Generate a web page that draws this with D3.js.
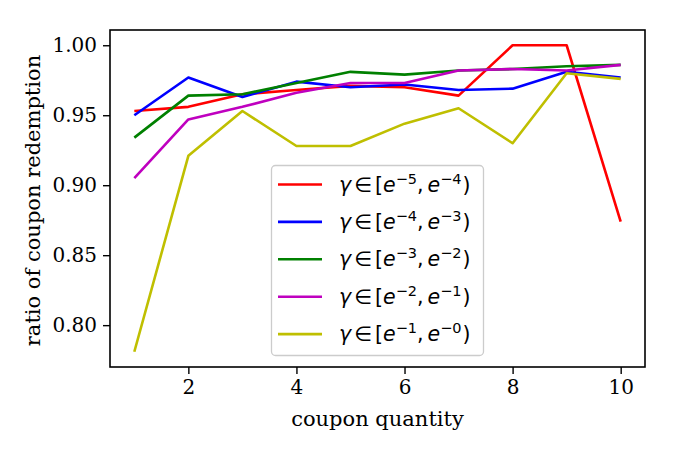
<!DOCTYPE html>
<html lang="en">
<head>
<meta charset="utf-8"/>
<title>coupon redemption</title>
<script src="https://d3js.org/d3.v7.min.js"></script>
<style>
  body { margin: 0; background: #fff; }
  text { font-family: "DejaVu Serif", serif; }
</style>
</head>
<body>
<script>
// data
var quantities = [1, 2, 3, 4, 5, 6, 7, 8, 9, 10];
var xTicks = [2, 4, 6, 8, 10];
var yTicks = [0.80, 0.85, 0.90, 0.95, 1.00];

var red     = [0.953, 0.956, 0.965, 0.968, 0.971, 0.970, 0.964, 1.000, 1.000, 0.874];
var blue    = [0.950, 0.977, 0.963, 0.974, 0.970, 0.972, 0.968, 0.969, 0.981, 0.977];
var green   = [0.934, 0.964, 0.965, 0.973, 0.981, 0.979, 0.982, 0.983, 0.985, 0.986];
var magenta = [0.905, 0.947, 0.956, 0.966, 0.973, 0.973, 0.982, 0.983, 0.982, 0.986];
var yellow  = [0.781, 0.921, 0.953, 0.928, 0.928, 0.944, 0.955, 0.930, 0.980, 0.976];

// legend exponents: [e^lo, e^hi)
var seriesNames = [["−5", "−4"], ["−4", "−3"], ["−3", "−2"], ["−2", "−1"], ["−1", "−0"]];
var seriesColors = ["#ff0000", "#0000ff", "#008000", "#bf00bf", "#bfbf00"];
var seriesValues = [red, blue, green, magenta, yellow];

var w = 675, h = 450;
var pLeft = 110, pRight = 645, pTop = 30, pBottom = 367;

var svg = d3.select("body").append("svg")
    .attr("width", w)
    .attr("height", h);

var xScale = d3.scaleLinear().domain([0.55, 10.45]).range([pLeft, pRight]);
var yScale = d3.scaleLinear().domain([0.7701, 1.0109]).range([pBottom, pTop]);

// axes
var xAxis = svg.append("g")
    .attr("transform", "translate(0," + pBottom + ")")
    .call(d3.axisBottom(xScale).tickValues(xTicks).tickSize(7).tickPadding(6).tickFormat(d3.format("d")));
var yAxis = svg.append("g")
    .attr("transform", "translate(" + pLeft + ",0)")
    .call(d3.axisLeft(yScale).tickValues(yTicks).tickSize(7).tickPadding(6).tickFormat(d3.format(".2f")));

[xAxis, yAxis].forEach(function(a) {
    a.select(".domain").remove();
    a.selectAll("line").attr("stroke", "#000").attr("stroke-width", 1.4);
    a.selectAll("text").attr("fill", "#000")
        .style("font-family", "'DejaVu Serif', serif").style("font-size", "20px");
});

// lines
var line = d3.line()
    .x(function(d, i) { return xScale(quantities[i]); })
    .y(function(d) { return yScale(d); });

svg.append("defs").append("clipPath").attr("id", "clip")
    .append("rect").attr("x", pLeft).attr("y", pTop)
    .attr("width", pRight - pLeft).attr("height", pBottom - pTop);

svg.append("g").attr("clip-path", "url(#clip)")
    .selectAll("path")
    .data(seriesValues)
    .enter()
    .append("path")
    .attr("d", line)
    .attr("fill", "none")
    .attr("stroke", function(d, i) { return seriesColors[i]; })
    .attr("stroke-width", 2.6)
    .attr("stroke-linejoin", "round");

// frame
svg.append("rect")
    .attr("x", pLeft).attr("y", pTop)
    .attr("width", pRight - pLeft).attr("height", pBottom - pTop)
    .attr("fill", "none").attr("stroke", "#000").attr("stroke-width", 1.6);

// axis labels
svg.append("text")
    .attr("x", (pLeft + pRight) / 2).attr("y", 426)
    .attr("text-anchor", "middle")
    .style("font-size", "21px")
    .text("coupon quantity");

svg.append("text")
    .attr("transform", "translate(40," + ((pTop + pBottom) / 2 + 2) + ") rotate(-90)")
    .attr("text-anchor", "middle")
    .style("font-size", "21px")
    .text("ratio of coupon redemption");

// legend
var lg = svg.append("g");
lg.append("rect")
    .attr("x", 271.5).attr("y", 165.5)
    .attr("width", 212).attr("height", 190)
    .attr("rx", 4)
    .attr("fill", "#fff").attr("fill-opacity", 0.8)
    .attr("stroke", "#cccccc").attr("stroke-width", 1.3);

var items = lg.selectAll("g.item")
    .data(seriesNames)
    .enter()
    .append("g")
    .attr("transform", function(d, i) { return "translate(0," + (184.5 + i * 37.4) + ")"; });

items.append("line")
    .attr("x1", 278).attr("x2", 322)
    .attr("stroke", function(d, i) { return seriesColors[i]; })
    .attr("stroke-width", 2.6);

var t = items.append("text")
    .attr("x", 339).attr("y", 7)
    .style("font-family", "'DejaVu Sans', sans-serif")
    .style("font-size", "20.5px");

t.each(function(d) {
    var el = d3.select(this);
    el.append("tspan").style("font-style", "italic").text("γ");
    el.append("tspan").attr("dx", 3).text("∈");
    el.append("tspan").attr("dx", 3).text("[");
    el.append("tspan").style("font-style", "italic").text("e");
    el.append("tspan").attr("dy", -8).style("font-size", "14.5px").text(d[0]);
    el.append("tspan").attr("dy", 8).text(",");
    el.append("tspan").attr("dx", 4).style("font-style", "italic").text("e");
    el.append("tspan").attr("dy", -8).style("font-size", "14.5px").text(d[1]);
    el.append("tspan").attr("dy", 8).attr("dx", 1).text(")");
});
</script>
</body>
</html>
